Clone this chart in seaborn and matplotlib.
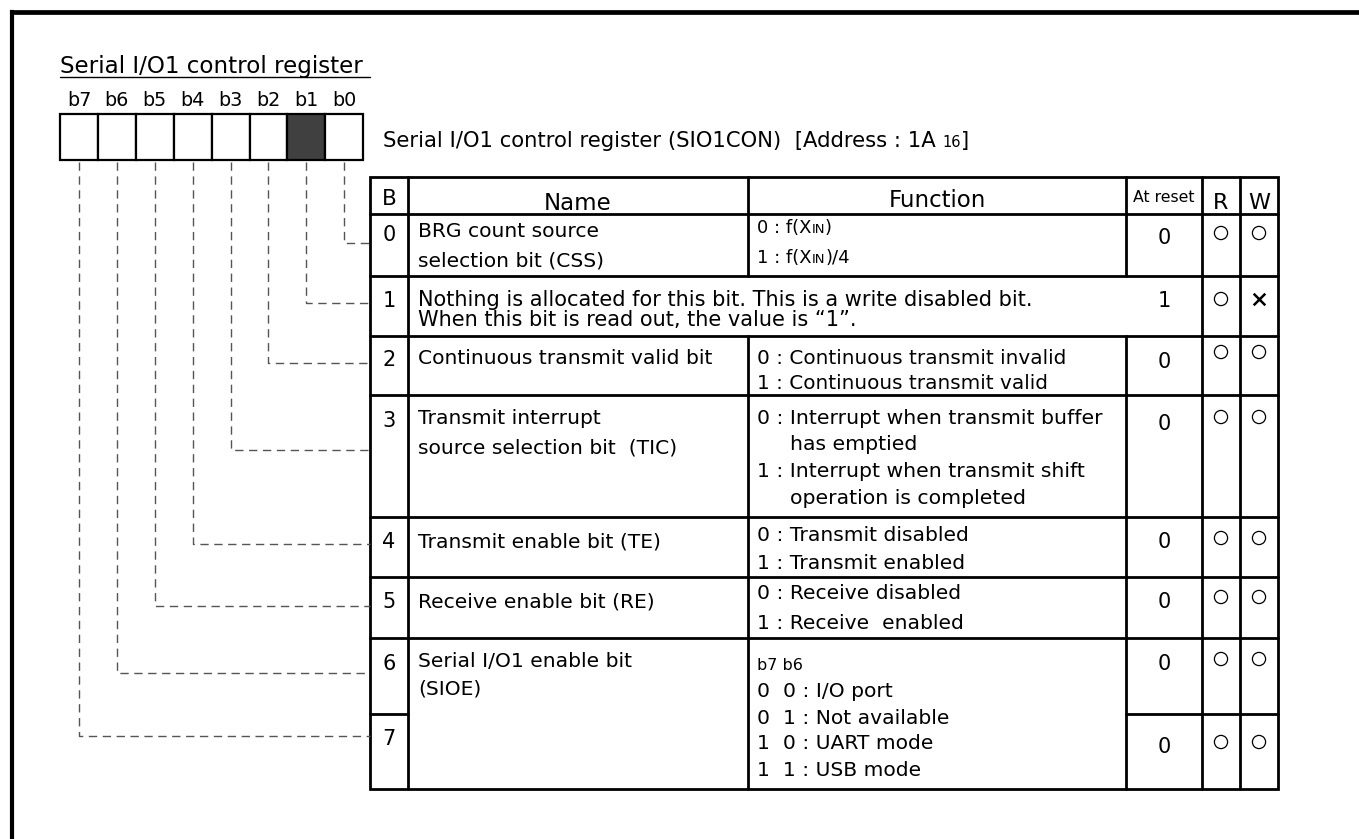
import pandas as pd
import seaborn as sns
import matplotlib.pyplot as plt
from matplotlib.patches import Rectangle

# ---- content -------------------------------------------------------------
register_title = "Serial I/O1 control register "
bit_labels = ["b7", "b6", "b5", "b4", "b3", "b2", "b1", "b0"]
filled_bits = ["b1"]
address_text = "Serial I/O1 control register (SIO1CON)  [Address : 1A {16}]"

header = ["B", "Name", "Function", "At reset", "R", "W"]
bit_numbers = ["0", "1", "2", "3", "4", "5", "6", "7"]
bit_names = [
    ["BRG count source", "selection bit (CSS)"],
    ["Nothing is allocated for this bit. This is a write disabled bit.",
     "When this bit is read out, the value is \u201c1\u201d."],
    ["Continuous transmit valid bit"],
    ["Transmit interrupt", "source selection bit  (TIC)"],
    ["Transmit enable bit (TE)"],
    ["Receive enable bit (RE)"],
    ["Serial I/O1 enable bit", "(SIOE)"],
]
functions = [
    ["0 : f(X{IN})", "1 : f(X{IN})/4"],
    [],
    ["0 : Continuous transmit invalid", "1 : Continuous transmit valid"],
    ["0 : Interrupt when transmit buffer", "   has emptied",
     "1 : Interrupt when transmit shift", "   operation is completed"],
    ["0 : Transmit disabled", "1 : Transmit enabled"],
    ["0 : Receive disabled", "1 : Receive  enabled"],
    ["{b7 b6}", "0  0 : I/O port", "0  1 : Not available",
     "1  0 : UART mode", "1  1 : USB mode"],
]
reset_values = ["0", "1", "0", "0", "0", "0", "0", "0"]
read_access = ["o", "o", "o", "o", "o", "o", "o", "o"]
write_access = ["o", "x", "o", "o", "o", "o", "o", "o"]

# ---- layout (pixels, y downwards) -----------------------------------------
W, H = 1359, 839
col_x = [370, 408, 748, 1126, 1202, 1240, 1278]
row_y = [177, 214, 276, 336, 395, 517, 577, 638, 714, 789]
box_x0, box_w, box_y0, box_y1 = 60, 37.9, 114, 160
leader_y = [243, 303, 363, 450, 544, 606, 673, 736]   # b0..b7
name_lines_y = [[230, 259], [298, 318], [357], [417, 446], [540], [600], [660, 687]]
func_lines_y = [[226, 256], [], [357, 382], [417, 443, 470, 497], [534, 562],
                [592, 622], [663, 690, 717, 742, 769]]
number_y = [233, 299, 358, 419, 540, 600, 662, 737]
reset_y = [236, 299, 360, 422, 540, 600, 662, 745]
mark_y = [233, 299, 352, 417, 538, 597, 659, 742]
name_fs = [14.6, 15.0, 14.6, 14.6, 14.6, 14.6, 14.6]
func_fs = [13.0, 14.6, 14.4, 14.7, 14.6, 14.6, 14.6]

sns.set_theme(style="white")
plt.rcParams['font.family'] = ['DejaVu Sans']
plt.rcParams['text.color'] = 'black'

fig = plt.figure(figsize=(W / 100, H / 100), dpi=100)
ax = fig.add_axes([0, 0, 1, 1])
ax.set_xlim(0, W)
ax.set_ylim(H, 0)
ax.set_autoscale_on(False)
renderer = fig.canvas.get_renderer()


def base(yc, fs):
    # convert a cap-centre y to a baseline y
    return yc + 0.365 * fs * 100 / 72


def rich(x, yc, s, fs, small_fs):
    """text with {..} parts drawn in a smaller size on the same baseline"""
    yb = base(yc, fs)
    parts = s.replace("}", "{").split("{")
    for k, p in enumerate(parts):
        if not p:
            continue
        t = ax.text(x, yb, p, fontsize=small_fs if k % 2 else fs,
                    va="baseline", ha="left", color="black")
        x = t.get_window_extent(renderer).x1
    return x


# frame
ax.plot([12, W], [11.5, 11.5], color="black", lw=3.4, solid_capstyle="projecting")
ax.plot([12, 12], [11.5, H], color="black", lw=3.0, solid_capstyle="projecting")

# register title and bit boxes
x_end = rich(box_x0, 65, register_title, 16.6, 16.6)
ax.plot([box_x0, x_end], [77, 77], color="black", lw=1.0)
for i, lab in enumerate(bit_labels):
    cx = box_x0 + box_w * (i + 0.5)
    ax.text(cx, base(99, 13.8), lab, fontsize=13.8, ha="center", va="baseline")
    ax.add_patch(Rectangle((box_x0 + box_w * i, box_y0), box_w, box_y1 - box_y0,
                           facecolor="#404040" if lab in filled_bits else "white",
                           edgecolor="black", lw=1.6))
rich(383, 139, address_text, 15.2, 10.5)

# leader lines from each bit box to its table row
for i, lab in enumerate(bit_labels):
    bit = int(lab[1])
    cx = box_x0 + box_w * (i + 0.5)
    ax.plot([cx, cx, col_x[0]], [box_y1 + 2, leader_y[bit], leader_y[bit]],
            color="#555555", lw=1.0, dashes=(6, 4))

# table grid
lw = 2.0
ax.add_patch(Rectangle((col_x[0], row_y[0]), col_x[-1] - col_x[0], row_y[-1] - row_y[0],
                       fill=False, edgecolor="black", lw=lw))
for y in row_y[1:8]:
    ax.plot([col_x[0], col_x[-1]], [y, y], color="black", lw=lw)
ax.plot([col_x[0], col_x[1]], [row_y[8], row_y[8]], color="black", lw=lw)
ax.plot([col_x[3], col_x[-1]], [row_y[8], row_y[8]], color="black", lw=lw)
for j in (1, 4, 5):
    ax.plot([col_x[j], col_x[j]], [row_y[0], row_y[-1]], color="black", lw=lw)
for j in (2, 3):
    ax.plot([col_x[j], col_x[j]], [row_y[0], row_y[2]], color="black", lw=lw)
    ax.plot([col_x[j], col_x[j]], [row_y[3], row_y[-1]], color="black", lw=lw)

# header
centers = [(col_x[j] + col_x[j + 1]) / 2 for j in range(6)]
head_y = [197, 202, 199, 196, 201, 201]
head_fs = [15.5, 16.5, 16.5, 11.3, 16, 16]
for c, txt, yc, fs in zip(centers, header, head_y, head_fs):
    ax.text(c, base(yc, fs), txt, fontsize=fs, ha="center", va="baseline")

# body
for r, num in enumerate(bit_numbers):
    ax.text(centers[0], base(number_y[r], 15), num, fontsize=15, ha="center", va="baseline")
    ax.text(centers[3], base(reset_y[r], 15), reset_values[r], fontsize=15,
            ha="center", va="baseline")
for r, lines in enumerate(bit_names):
    for line, yc in zip(lines, name_lines_y[r]):
        rich(418, yc, line, name_fs[r], name_fs[r])
for r, lines in enumerate(functions):
    for line, yc in zip(lines, func_lines_y[r]):
        x0 = 790 if line.startswith("   ") else 757
        rich(x0, yc, line.strip(), func_fs[r], 11.5 if line.startswith("{b") else 9.5)

marks = pd.DataFrame({
    "x": [centers[4]] * 8 + [centers[5]] * 8,
    "y": mark_y + mark_y,
    "mark": read_access + write_access,
})
sns.scatterplot(data=marks[marks["mark"] == "o"], x="x", y="y", ax=ax, marker="o",
                s=90, facecolor="none", edgecolor="black", linewidth=0.9, legend=False)
sns.scatterplot(data=marks[marks["mark"] == "x"], x="x", y="y", ax=ax, marker="x",
                s=70, color="black", linewidth=1.8, legend=False)

ax.set_xlim(0, W)
ax.set_ylim(H, 0)
ax.axis("off")
fig.savefig("out.png", dpi=100, facecolor="white")
